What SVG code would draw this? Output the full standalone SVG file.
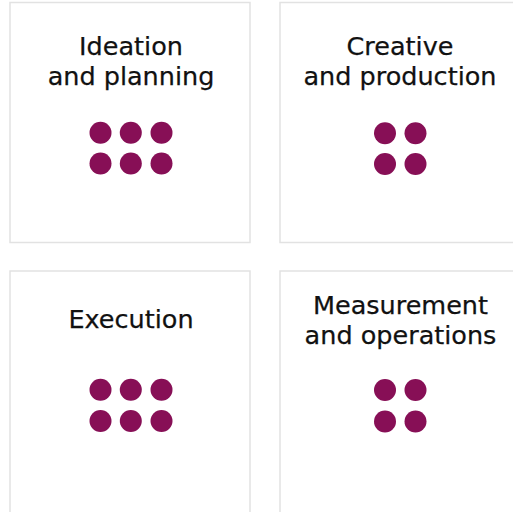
<svg xmlns="http://www.w3.org/2000/svg" width="513" height="512" viewBox="0 0 513 512">
<style>
.box{fill:#fff;stroke:#e2e2e2;stroke-width:1.5}
.t{font-family:"DejaVu Sans",sans-serif;font-size:25.5px;fill:#111;text-anchor:middle;stroke:#111;stroke-width:0.25}
.d{fill:#870f56}
</style>
<rect width="513" height="512" fill="#fff"/>
<g id="ideation">
<rect class="box" x="10" y="2.5" width="240" height="240"/>
<text class="t" x="131" y="54.5">Ideation</text>
<text class="t" x="131" y="84.5">and planning</text>
<circle class="d" cx="100.5" cy="132.8" r="11"/><circle class="d" cx="130.8" cy="132.8" r="11"/><circle class="d" cx="161.5" cy="132.8" r="11"/>
<circle class="d" cx="100.5" cy="163.5" r="11"/><circle class="d" cx="130.8" cy="163.5" r="11"/><circle class="d" cx="161.5" cy="163.5" r="11"/>
</g>
<g id="creative">
<rect class="box" x="280" y="2.5" width="240" height="240"/>
<text class="t" x="400" y="54.5">Creative</text>
<text class="t" x="400" y="84.5">and production</text>
<circle class="d" cx="385" cy="133.3" r="11"/><circle class="d" cx="415.5" cy="133.3" r="11"/>
<circle class="d" cx="385" cy="164" r="11"/><circle class="d" cx="415.5" cy="164" r="11"/>
</g>
<g id="execution">
<rect class="box" x="10" y="271" width="240" height="250"/>
<text class="t" x="131" y="327.5">Execution</text>
<circle class="d" cx="100.5" cy="389.8" r="11"/><circle class="d" cx="130.8" cy="389.8" r="11"/><circle class="d" cx="161.5" cy="389.8" r="11"/>
<circle class="d" cx="100.5" cy="421" r="11"/><circle class="d" cx="130.8" cy="421" r="11"/><circle class="d" cx="161.5" cy="421" r="11"/>
</g>
<g id="measurement">
<rect class="box" x="280" y="271" width="240" height="250"/>
<text class="t" x="400.5" y="313.5">Measurement</text>
<text class="t" x="400.5" y="343.5">and operations</text>
<circle class="d" cx="385" cy="390" r="11"/><circle class="d" cx="415.5" cy="390" r="11"/>
<circle class="d" cx="385" cy="421.5" r="11"/><circle class="d" cx="415.5" cy="421.5" r="11"/>
</g>
<g id="connectors"/>
</svg>
